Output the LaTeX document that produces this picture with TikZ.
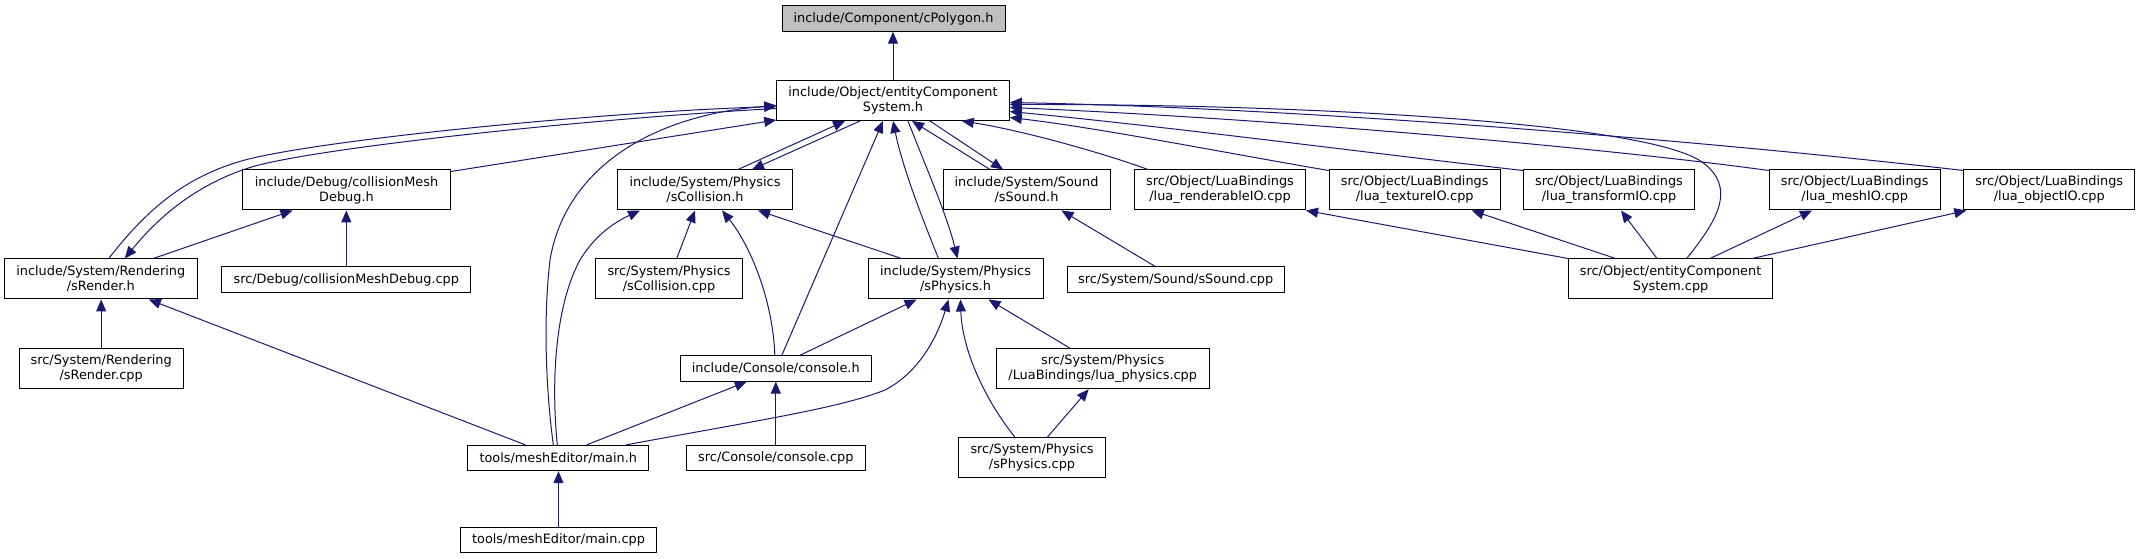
\documentclass[tikz,border=0pt]{standalone}
\usepackage{fontspec}
\setmainfont{DejaVu Sans}
\usetikzlibrary{arrows.meta,calc}
\definecolor{edgeblue}{HTML}{191970}
\definecolor{rootgray}{HTML}{BFBFBF}
\newcommand{\nodefont}{\fontsize{9.65pt}{11.25pt}\selectfont}
\begin{document}
\begin{tikzpicture}[x=0.75pt,y=-0.75pt,
  nd/.style={draw=black, line width=0.75pt, fill=white, inner sep=0pt, align=center, font=\nodefont, minimum height=30pt},
  one/.style={minimum height=19pt},
  dep/.style={draw=edgeblue, line width=0.75pt, -{Triangle[length=9pt,width=7.5pt]}},
]
\fill[white] (0,0) rectangle (2140,559);
\useasboundingbox (0,0) rectangle (2140,559);

% nodes
\node[nd,one,fill=rootgray,minimum width=167.25pt] (cpoly) at (893.5,18.5) {include/Component/cPolygon.h};
\node[nd,minimum width=174.4pt] (ecsh) at (893,100.5) {include/Object/entityComponent\\System.h};
\node[nd,minimum width=156pt] (cmdh) at (346.5,190) {include/Debug/collisionMesh\\Debug.h};
\node[nd,minimum width=131.25pt] (scolh) at (705,190) {include/System/Physics\\/sCollision.h};
\node[nd,minimum width=125.25pt] (ssoundh) at (1026.5,190) {include/System/Sound\\/sSound.h};
\node[nd,minimum width=128.25pt] (lrend) at (1220,190) {src/Object/LuaBindings\\/lua\_renderableIO.cpp};
\node[nd,minimum width=128.25pt] (ltex) at (1414.7,190) {src/Object/LuaBindings\\/lua\_textureIO.cpp};
\node[nd,minimum width=128.25pt] (ltrans) at (1609,190) {src/Object/LuaBindings\\/lua\_transformIO.cpp};
\node[nd,minimum width=128.25pt] (lmesh) at (1854.7,190) {src/Object/LuaBindings\\/lua\_meshIO.cpp};
\node[nd,minimum width=128.25pt] (lobj) at (2049.3,190) {src/Object/LuaBindings\\/lua\_objectIO.cpp};
\node[nd,minimum width=144.75pt] (srendh) at (100.8,279) {include/System/Rendering\\/sRender.h};
\node[nd,one,minimum width=186.75pt] (cmdcpp) at (346.3,279.5) {src/Debug/collisionMeshDebug.cpp};
\node[nd,minimum width=109.9pt] (scolcpp) at (669,279) {src/System/Physics\\/sCollision.cpp};
\node[nd,minimum width=131.25pt] (sphysh) at (955.5,279) {include/System/Physics\\/sPhysics.h};
\node[nd,one,minimum width=162.75pt] (ssoundcpp) at (1175.7,279.5) {src/System/Sound/sSound.cpp};
\node[nd,minimum width=153pt] (ecscpp) at (1670.6,279) {src/Object/entityComponent\\System.cpp};
\node[nd,minimum width=123pt] (srendcpp) at (101.2,368.7) {src/System/Rendering\\/sRender.cpp};
\node[nd,one,minimum width=143.25pt] (consoleh) at (775.8,368.5) {include/Console/console.h};
\node[nd,minimum width=159.75pt] (luaphys) at (1102.7,368.7) {src/System/Physics\\/LuaBindings/lua\_physics.cpp};
\node[nd,one,minimum width=135.75pt] (mainh) at (558.3,458) {tools/meshEditor/main.h};
\node[nd,one,minimum width=134.25pt] (consolecpp) at (775.8,458) {src/Console/console.cpp};
\node[nd,minimum width=109.9pt] (sphyscpp) at (1032,457.7) {src/System/Physics\\/sPhysics.cpp};
\node[nd,one,minimum width=147.3pt] (maincpp) at (558.5,540) {tools/meshEditor/main.cpp};

% edges
\draw[dep] (ecsh.north) -- (ecsh.north |- cpoly.south);

\draw[dep] ($(srendh.north)+(8,0)$) .. controls (150,205) and (190,175) .. (245,160)
   .. controls (320,140) and (600,112) .. ($(ecsh.west)+(0,6)$);
\draw[dep] ($(ecsh.west)+(0,8)$) .. controls (600,118) and (330,146) .. (255,166)
   .. controls (200,182) and (160,215) .. ($(srendh.north)+(24,0)$);
\draw[dep] ($(cmdh.north east)+(0,2)$) -- ($(ecsh.south west)+(0,-1)$);
\draw[dep] ($(mainh.north)+(-5,0)$) .. controls (546,390) and (543,320) .. (550,260)
   .. controls (565,170) and (650,115) .. ($(ecsh.west)+(0,5)$);
\draw[dep] ($(mainh.north)+(-1,0)$) .. controls (550,370) and (558,300) .. (580,260)
   .. controls (595,235) and (615,222) .. ($(scolh.south)+(-65,0)$);
\draw[dep] ($(scolh.north)+(33,0)$) -- ($(ecsh.south)+(-48,0)$);
\draw[dep] ($(ecsh.south)+(-33,0)$) -- ($(scolh.north)+(47,0)$);
\draw[dep] ($(consoleh.north)+(6,0)$) -- ($(ecsh.south)+(-10,0)$);
\draw[dep] ($(sphysh.north)+(-17,0)$) .. controls (925,225) and (903,170) .. ($(ecsh.south)+(0,0)$);
\draw[dep] ($(ecsh.south)+(15,0)$) .. controls (925,165) and (947,215) .. ($(sphysh.north)+(2,0)$);
\draw[dep] ($(ssoundh.north)+(-36.5,0)$) -- ($(ecsh.south)+(19,0)$);
\draw[dep] ($(ecsh.south)+(37,0)$) -- ($(ssoundh.north)+(-23.5,0)$);
\draw[dep] ($(lrend.north west)+(14,0)$) .. controls (1100,152) and (1020,130) .. ($(ecsh.south east)+(-48,0)$);
\draw[dep] ($(ltex.north west)+(0,1)$) .. controls (1220,152) and (1100,128) .. ($(ecsh.east)+(0,17)$);
\draw[dep] ($(ltrans.north west)+(0,1)$) .. controls (1360,152) and (1180,128) .. ($(ecsh.east)+(0,11)$);
\draw[dep] ($(lmesh.north west)+(0,1)$) .. controls (1620,150) and (1300,120) .. ($(ecsh.east)+(0,7)$);
\draw[dep] ($(lobj.north west)+(0,1)$) .. controls (1700,140) and (1300,108) .. ($(ecsh.east)+(0,2)$);
\draw[dep] ($(ecscpp.north)+(16,0)$) .. controls (1716,222) and (1738,188) .. (1702,162)
   .. controls (1645,122) and (1300,104) .. ($(ecsh.east)+(0,4)$);

\draw[dep] (ecscpp.north west) -- (lrend.south east);
\draw[dep] ($(ecscpp.north)+(-55,0)$) -- ($(ltex.south)+(57,0)$);
\draw[dep] ($(ecscpp.north)+(-13.6,0)$) -- ($(ltrans.south)+(12,0)$);
\draw[dep] ($(ecscpp.north)+(39.4,0)$) -- ($(lmesh.south)+(-42.7,0)$);
\draw[dep] ($(ecscpp.north)+(81.4,0)$) -- ($(lobj.south west)+(3,0)$);

\draw[dep] (cmdcpp.north) -- (cmdcpp.north |- cmdh.south);
\draw[dep] ($(srendh.north)+(52.5,0)$) -- ($(cmdh.south)+(-54,0)$);
\draw[dep] ($(scolcpp.north)+(7.7,0)$) -- ($(scolh.south)+(-10,0)$);
\draw[dep] ($(consoleh.north)+(-1,0)$) .. controls (773,300) and (750,245) .. ($(scolh.south)+(17,0)$);
\draw[dep] ($(sphysh.north)+(-54,0)$) -- ($(scolh.south)+(53,0)$);
\draw[dep] ($(ssoundcpp.north)+(-20.7,0)$) -- ($(ssoundh.south)+(35,0)$);
\draw[dep] (srendcpp.north) -- (srendcpp.north |- srendh.south);
\draw[dep] ($(mainh.north)+(-33,0)$) -- ($(srendh.south)+(48,0)$);
\draw[dep] ($(consoleh.north)+(24,0)$) -- ($(sphysh.south)+(-39,0)$);
\draw[dep] ($(mainh.north)+(68,0)$) .. controls (760,420) and (840,408) .. (885,390)
   .. controls (920,372) and (938,335) .. ($(sphysh.south)+(-7,0)$);
\draw[dep] ($(sphyscpp.north)+(-17,0)$) .. controls (985,400) and (962,350) .. ($(sphysh.south)+(5,0)$);
\draw[dep] ($(luaphys.north)+(-32.7,0)$) -- ($(sphysh.south)+(33,0)$);
\draw[dep] ($(sphyscpp.north)+(15.3,0)$) -- ($(luaphys.south)+(-14,0)$);
\draw[dep] ($(mainh.north)+(28.4,0)$) -- ($(consoleh.south)+(-29,0)$);
\draw[dep] (consolecpp.north) -- (consolecpp.north |- consoleh.south);
\draw[dep] (maincpp.north) -- (maincpp.north |- mainh.south);
\end{tikzpicture}
\end{document}
